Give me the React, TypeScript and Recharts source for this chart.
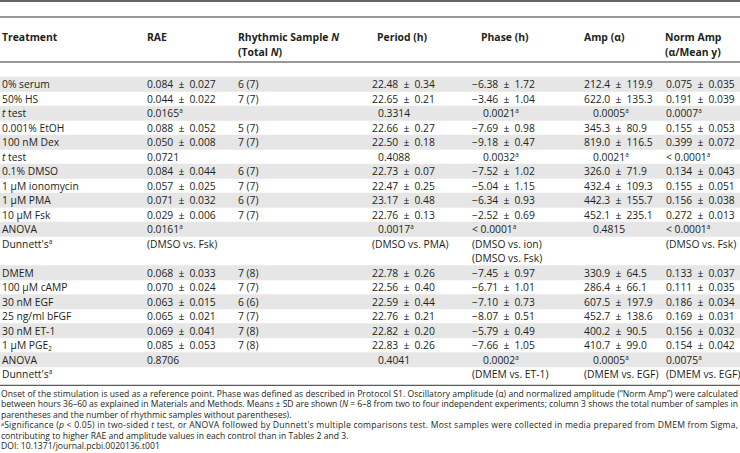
import React from 'react';
import { BarChart, Bar, XAxis, YAxis, LabelList, Cell, Customized } from 'recharts';

// table body, one entry per printed line
const treatments = ['0% serum', '50% HS', '*t* test', '0.001% EtOH', '100 nM Dex', '*t* test', '0.1% DMSO', '1 µM ionomycin', '1 µM PMA', '10 µM Fsk', 'ANOVA', "Dunnett's^a^", '', 'DMEM', '100 µM cAMP', '30 nM EGF', '25 ng/ml bFGF', '30 nM ET-1', '1 µM PGE_2_', 'ANOVA', "Dunnett's^a^"];
const rae = ['0.084 ± 0.027', '0.044 ± 0.022', '0.0165^a^', '0.088 ± 0.052', '0.050 ± 0.008', '0.0721', '0.084 ± 0.044', '0.057 ± 0.025', '0.071 ± 0.032', '0.029 ± 0.006', '0.0161^a^', '(DMSO vs. Fsk)', '', '0.068 ± 0.033', '0.070 ± 0.024', '0.063 ± 0.015', '0.065 ± 0.021', '0.069 ± 0.041', '0.085 ± 0.053', '0.8706', ''];
const rhythmicN = ['6 (7)', '7 (7)', '', '5 (7)', '7 (7)', '', '6 (7)', '7 (7)', '6 (7)', '7 (7)', '', '', '', '7 (8)', '7 (7)', '6 (6)', '7 (7)', '7 (8)', '7 (8)', '', ''];
const period = ['22.48 ± 0.34', '22.65 ± 0.21', '0.3314', '22.66 ± 0.27', '22.50 ± 0.18', '0.4088', '22.73 ± 0.07', '22.47 ± 0.25', '23.17 ± 0.48', '22.76 ± 0.13', '0.0017^a^', '(DMSO vs. PMA)', '', '22.78 ± 0.26', '22.56 ± 0.40', '22.59 ± 0.44', '22.76 ± 0.21', '22.82 ± 0.20', '22.83 ± 0.26', '0.4041', ''];
const phase = ['−6.38 ± 1.72', '−3.46 ± 1.04', '0.0021^a^', '−7.69 ± 0.98', '−9.18 ± 0.47', '0.0032^a^', '−7.52 ± 1.02', '−5.04 ± 1.15', '−6.34 ± 0.93', '−2.52 ± 0.69', '< 0.0001^a^', '(DMSO vs. ion)', '(DMSO vs. Fsk)', '−7.45 ± 0.97', '−6.71 ± 1.01', '−7.10 ± 0.73', '−8.07 ± 0.51', '−5.79 ± 0.49', '−7.66 ± 1.05', '0.0002^a^', '(DMEM vs. ET-1)'];
const amp = ['212.4 ± 119.9', '622.0 ± 135.3', '0.0005^a^', '345.3 ± 80.9', '819.0 ± 116.5', '0.0021^a^', '326.0 ± 71.9', '432.4 ± 109.3', '442.3 ± 155.7', '452.1 ± 235.1', '0.4815', '', '', '330.9 ± 64.5', '286.4 ± 66.1', '607.5 ± 197.9', '452.7 ± 138.6', '400.2 ± 90.5', '410.7 ± 99.0', '0.0005^a^', '(DMEM vs. EGF)'];
const normAmp = ['0.075 ± 0.035', '0.191 ± 0.039', '0.0007^a^', '0.155 ± 0.053', '0.399 ± 0.072', '< 0.0001^a^', '0.134 ± 0.043', '0.155 ± 0.051', '0.156 ± 0.038', '0.272 ± 0.013', '< 0.0001^a^', '(DMSO vs. Fsk)', '', '0.133 ± 0.037', '0.111 ± 0.035', '0.186 ± 0.034', '0.169 ± 0.031', '0.156 ± 0.032', '0.154 ± 0.042', '0.0075^a^', '(DMEM vs. EGF)'];
const shaded = [1, 0, 1, 0, 1, 0, 1, 0, 1, 0, 1, 0, 0, 1, 0, 1, 0, 1, 0, 1, 0];

const headers = [['Treatment'], ['RAE'], ['Rhythmic Sample *N*', '(Total *N*)'], ['Period (h)'], ['Phase (h)'], ['Amp (α)'], ['Norm Amp', '(α/Mean y)']];

const footnotes = [
  'Onset of the stimulation is used as a reference point. Phase was defined as described in Protocol S1. Oscillatory amplitude (α) and normalized amplitude (“Norm Amp”) were calculated',
  'between hours 36–60 as explained in Materials and Methods. Means ± SD are shown (*N* = 6–8 from two to four independent experiments; column 3 shows the total number of samples in',
  'parentheses and the number of rhythmic samples without parentheses).',
  "^a^Significance (*p* < 0.05) in two-sided *t* test, or ANOVA followed by Dunnett's multiple comparisons test. Most samples were collected in media prepared from DMEM from Sigma,",
  'contributing to higher RAE and amplitude values in each control than in Tables 2 and 3.',
  'DOI: 10.1371/journal.pcbi.0020136.t001',
];
const justified = [true, true, false, true, false, false];

const columns = [treatments, rae, rhythmicN, period, phase, amp, normAmp];
const data = treatments.map((t, i) => ({ row: 'r' + i, full: 1 }));

const W = 740;
const H = 453;
const FONT = '"Open Sans", "Noto Sans", sans-serif';
const INK = '#231f20';
const rowTop = 76.8;
const pitch = 14.5;
const FS = 10.3;
const colX = [2, 147, 238, 372, 472, 584, 666];
const pX = [2, 147, 238, 378, 483, 593, 666];
const headX = [2, 147, 238, 377, 481, 584, 665];

// *italic*, ^sup^, _sub_
function rich(s: string, size: number, supRise = 0.36) {
  const parts = s.split(/(\*[^*]+\*|\^[^^]+\^|_[^_]+_)/).filter(p => p !== '');
  let shift = 0;
  return parts.map((p, k) => {
    let txt = p;
    const style: any = {};
    let target = 0;
    if (p.startsWith('*')) {
      txt = p.slice(1, -1);
      style.fontStyle = 'italic';
    } else if (p.startsWith('^')) {
      txt = p.slice(1, -1);
      style.fontSize = size * 0.62;
      target = -size * supRise;
    } else if (p.startsWith('_')) {
      txt = p.slice(1, -1);
      style.fontSize = size * 0.62;
      target = size * 0.2;
    }
    const dy = target - shift;
    shift = target;
    return (
      <tspan key={k} dy={dy} style={style}>
        {txt}
      </tspan>
    );
  });
}

function isP(s: string) {
  return /^\d+\.\d+(\^a\^)?$/.test(s);
}

// wider gaps round the plus-minus sign, as in the print
function spaced(s: string) {
  return s.replace(/ ± /g, '\u2002±\u2002');
}

function RowCells(props: any) {
  const { y, height, index } = props;
  const i = index ?? 0;
  const cy = y + height / 2;
  return (
    <g>
      {columns.map((col, c) => {
        const s = col[i];
        if (!s) return null;
        return (
          <text key={c} x={isP(s) ? pX[c] : colX[c]} y={cy + 3.7} fontSize={FS} fontFamily={FONT} fill={INK}>
            {rich(spaced(s), FS)}
          </text>
        );
      })}
    </g>
  );
}

function Decor() {
  const bodyBottom = rowTop + pitch * treatments.length;
  return (
    <g fontFamily={FONT} fill={INK}>
      <line x1={0} x2={W} y1={1} y2={1} stroke="#333" strokeWidth={1.5} />
      <line x1={0} x2={W} y1={17} y2={17} stroke="#333" strokeWidth={1} />
      {headers.map((lines, c) =>
        lines.map((l, k) => (
          <text key={c + '-' + k} x={headX[c]} y={41 + k * 15} fontSize={10.4} fontWeight="bold">
            {rich(l, 10.4)}
          </text>
        ))
      )}
      <line x1={0} x2={W} y1={62} y2={62} stroke="#333" strokeWidth={1} />
      <line x1={0} x2={W} y1={bodyBottom + 4} y2={bodyBottom + 4} stroke="#333" strokeWidth={1} />
      {footnotes.map((f, k) => (
        <text
          key={k}
          x={1}
          y={bodyBottom + 15.5 + k * 10.5}
          fontSize={8.6}
          textLength={justified[k] ? 737 : undefined}
          lengthAdjust={justified[k] ? 'spacing' : undefined}
        >
          {rich(f, 8.6, 0.22)}
        </text>
      ))}
    </g>
  );
}

export default function App() {
  const bodyH = pitch * treatments.length;
  return (
    <div style={{ position: 'absolute', left: 0, top: 0, width: W, height: H, background: '#fff' }}>
      <BarChart
        width={W}
        height={H}
        data={data}
        layout="vertical"
        barCategoryGap={0}
        barGap={0}
        margin={{ top: rowTop, right: 0, bottom: H - rowTop - bodyH, left: 0 }}
      >
        <XAxis type="number" domain={[0, 1]} hide />
        <YAxis type="category" dataKey="row" hide />
        <Bar dataKey="full" isAnimationActive={false}>
          {data.map((d, i) => (
            <Cell key={d.row} fill={shaded[i] ? '#e6e6e6' : 'transparent'} />
          ))}
          <LabelList dataKey="full" content={(p: any) => <RowCells {...p} />} />
        </Bar>
        <Customized component={<Decor />} />
      </BarChart>
    </div>
  );
}
